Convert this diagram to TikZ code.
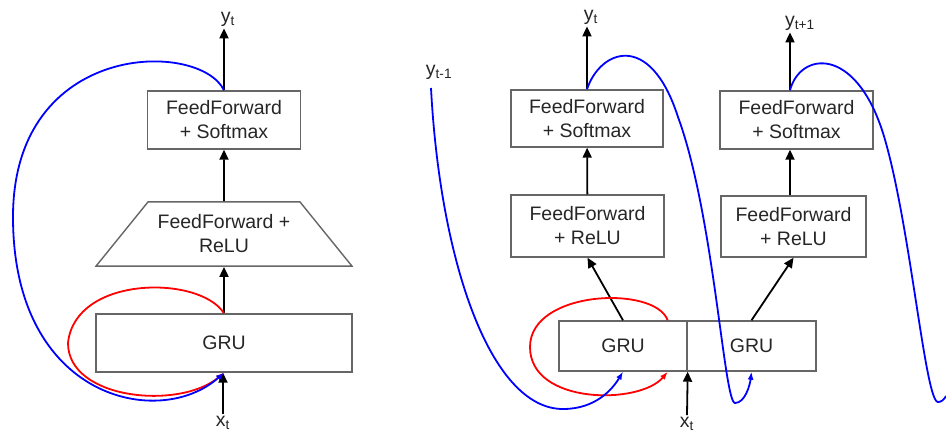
\documentclass[tikz,border=0pt]{standalone}
\usepackage{fontspec}
\setmainfont{Liberation Sans}
\usetikzlibrary{arrows.meta,shapes.geometric}

\begin{document}
\begin{tikzpicture}[x=1pt,y=-1pt,
    every node/.style={font=\fontsize{19.5}{24}\selectfont,text=black!85},
    block/.style={draw=black!60,line width=1.4pt,align=center,inner sep=0pt},
    lbl/.style={inner sep=2pt},
    up/.style={-{Triangle[length=10pt,width=9pt]},line width=1.8pt},
    yback/.style={blue,line width=1.8pt,-{Latex[length=8pt,width=6pt]}},
    hback/.style={red,line width=1.8pt,-{Latex[length=8pt,width=6pt]}}]
    \useasboundingbox (0,0) rectangle (946,432);

    % one step
    \node[block,minimum width=256pt,minimum height=58pt] (gru) at (224,343) {GRU};
    \node[block,trapezium,trapezium angle=51,trapezium stretches body,inner ysep=13pt,
          minimum width=256pt] (relu) at (224,234) {FeedForward +\\ReLU};
    \node[block,minimum width=153pt,minimum height=58pt] (soft) at (224,120) {FeedForward\\+ Softmax};
    \node[lbl] (yt)  at (228,19)  {y\textsubscript{t}};
    \node[lbl] (xt)  at (223,423) {x\textsubscript{t}};
    \draw[up] (gru) -- (relu);
    \draw[up] (relu) -- (soft);
    \draw[up] (soft.north) -- (soft.north |- yt.south);
    \draw[up] (xt.north) -- (xt.north |- gru.south);
    \draw[hback] (gru.north) .. controls (200,275) and (75,275) .. (68,343)
                 .. controls (68,400) and (180,410) .. (gru.south);
    \draw[yback] (soft.north) .. controls (200,40) and (13,40) .. (13,217)
                 .. controls (13,400) and (160,430) .. (gru.south);

    % unrolled
    \node[block,minimum width=128pt,minimum height=50pt] (gru1) at (623,346) {GRU};
    \node[block,minimum width=129pt,minimum height=50pt] (gru2) at (751.5,346) {GRU};
    \node[block,minimum width=153pt,minimum height=62pt] (relu1) at (587.5,226) {FeedForward\\+ ReLU};
    \node[block,minimum width=152pt,minimum height=57pt] (soft1) at (587,118.5) {FeedForward\\+ Softmax};
    \node[block,minimum width=145pt,minimum height=61pt] (relu2) at (793.5,226.5) {FeedForward\\+ ReLU};
    \node[block,minimum width=153pt,minimum height=58pt] (soft2) at (796.5,120) {FeedForward\\+ Softmax};
    \node[lbl] (yprev) at (439,72)  {y\textsubscript{t-1}};
    \node[lbl] (yt1)   at (591,17)  {y\textsubscript{t}};
    \node[lbl] (yt2)   at (800,23)  {y\textsubscript{t+1}};
    \node[lbl] (xt2)   at (687,424) {x\textsubscript{t}};
    \coordinate (yin)  at (431,88);
    \coordinate (yout) at (946,396);

    \draw[up] (gru1.north) -- (relu1.south);
    \draw[up] (gru2.north) -- (relu2.south);
    \draw[up] (relu1) -- (soft1);
    \draw[up] ([xshift=-3.5pt]relu2.north) -- ([xshift=-6.5pt]soft2.south);
    \draw[up] (soft1.north) -- (soft1.north |- yt1.south);
    \draw[up] ([xshift=-6.5pt]soft2.north) -- ([xshift=-6.5pt]soft2.north |- yt2.south);
    \draw[up] (xt2.north) -- (gru1.south east);

    \draw[hback] ([xshift=-20pt]gru1.north east) .. controls (655,285) and (530,290) .. (530,347)
                 .. controls (530,405) and (640,405) .. ([xshift=-20pt]gru1.south east);
    \draw[yback] (yin) .. controls (440,260) and (490,409) .. (563,409)
                 .. controls (595,409) and (612,390) .. (gru1.south);
    \draw[yback] (soft1.north) .. controls (600,50) and (650,30) .. (678,117)
                 .. controls (714,215) and (724,403) .. (735,403)
                 .. controls (745,403) and (750,385) .. (gru2.south);
    \draw[blue,line width=1.8pt] ([xshift=-6.5pt]soft2.north) .. controls (800,52) and (855,45) .. (883,133)
                 .. controls (910,220) and (925,402) .. (938,402)
                 .. controls (941,402) and (944,400) .. (yout);
\end{tikzpicture}
\end{document}
